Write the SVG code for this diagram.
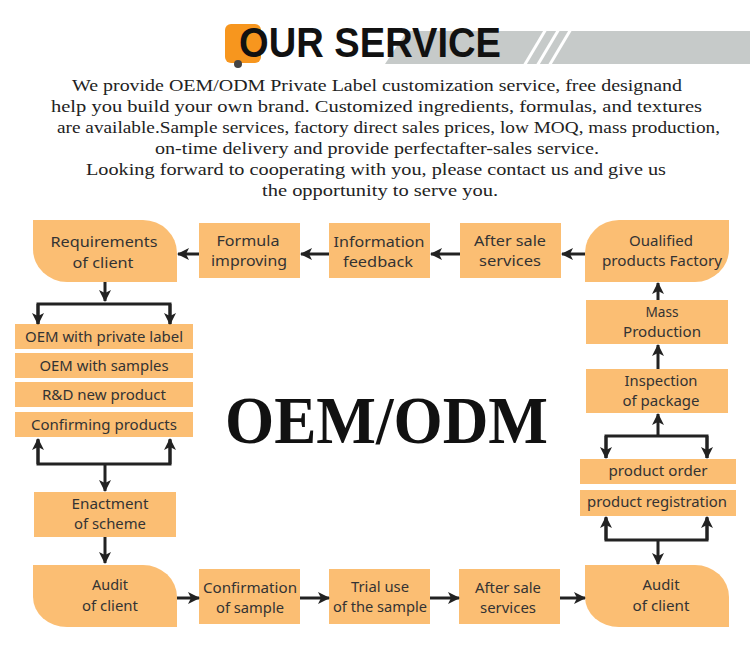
<svg xmlns="http://www.w3.org/2000/svg" width="750" height="646" viewBox="0 0 750 646">
<defs>
<style>
.n{fill:#FBBE73}
.t{font-family:"Noto Sans","Open Sans",sans-serif;font-size:15px;fill:#333;text-anchor:middle}
.p{font-family:"Liberation Serif","Times New Roman",serif;font-size:17.5px;fill:#222}
.c line,.c path{stroke:#222;stroke-width:3;fill:none}
</style>
<marker id="ah" viewBox="0 0 12 12" refX="11" refY="6" markerWidth="12" markerHeight="12" markerUnits="userSpaceOnUse" orient="auto">
<path d="M0,0 L12,6 L0,12 L3,6 Z" fill="#222"/>
</marker>
</defs>
<rect width="750" height="646" fill="#fff"/>

<g id="title">
<polygon points="385,64 407,31 750,31 750,64" fill="#C6CAC9"/>
<g stroke="#fff" stroke-width="3">
<line x1="524" y1="66" x2="546" y2="29"/>
<line x1="537" y1="66" x2="559" y2="29"/>
<line x1="549" y1="66" x2="571" y2="29"/>
</g>
<rect x="225" y="24" width="36" height="39" rx="6" fill="#F7961E"/>
<circle cx="238" cy="64" r="4" fill="#444"/>
<text x="239" y="57" font-family="Liberation Sans,Arial,sans-serif" font-weight="bold" font-size="42" fill="#111" textLength="262" lengthAdjust="spacingAndGlyphs">OUR SERVICE</text>
</g>

<g id="intro" class="p">
<text class="p" x="72" y="91" textLength="610" lengthAdjust="spacingAndGlyphs">We provide OEM/ODM Private Label customization service, free designand</text>
<text class="p" x="51" y="112" textLength="651" lengthAdjust="spacingAndGlyphs">help you build your own brand. Customized ingredients, formulas, and textures</text>
<text class="p" x="57" y="133" textLength="663" lengthAdjust="spacingAndGlyphs">are available.Sample services, factory direct sales prices, low MOQ, mass production,</text>
<text class="p" x="155" y="154" textLength="444" lengthAdjust="spacingAndGlyphs">on-time delivery and provide perfectafter-sales service.</text>
<text class="p" x="86" y="175" textLength="580" lengthAdjust="spacingAndGlyphs">Looking forward to cooperating with you, please contact us and give us</text>
<text class="p" x="262" y="196" textLength="236" lengthAdjust="spacingAndGlyphs">the opportunity to serve you.</text>
</g>

<text id="center-title" x="225" y="443" font-family="Liberation Serif,Times New Roman,serif" font-weight="bold" font-size="68" fill="#111" textLength="323" lengthAdjust="spacingAndGlyphs">OEM/ODM</text>

<g id="requirements">
<path class="n" d="M33,220 H143 A34,33 0 0 1 177,253 V282 H67 A34,33 0 0 1 33,249 Z"/>
<text class="t" x="104" y="247" textLength="107" lengthAdjust="spacingAndGlyphs">Requirements</text>
<text class="t" x="103" y="268" textLength="61" lengthAdjust="spacingAndGlyphs">of client</text>
</g>
<g id="formula">
<rect class="n" x="199" y="223" width="101" height="55"/>
<text class="t" x="248" y="246" textLength="63" lengthAdjust="spacingAndGlyphs">Formula</text>
<text class="t" x="249" y="266" textLength="76" lengthAdjust="spacingAndGlyphs">improving</text>
</g>
<g id="information">
<rect class="n" x="329" y="223" width="101" height="55"/>
<text class="t" x="379" y="247" textLength="91" lengthAdjust="spacingAndGlyphs">Information</text>
<text class="t" x="378" y="267" textLength="70" lengthAdjust="spacingAndGlyphs">feedback</text>
</g>
<g id="aftersale-top">
<rect class="n" x="460" y="223" width="101" height="55"/>
<text class="t" x="510" y="246" textLength="72" lengthAdjust="spacingAndGlyphs">After sale</text>
<text class="t" x="510" y="266" textLength="62" lengthAdjust="spacingAndGlyphs">services</text>
</g>
<g id="qualified">
<path class="n" d="M619,220 H729 V249 A34,33 0 0 1 695,282 H585 V253 A34,33 0 0 1 619,220 Z"/>
<text class="t" x="661" y="246" textLength="64" lengthAdjust="spacingAndGlyphs">Oualified</text>
<text class="t" x="662" y="266" textLength="120" lengthAdjust="spacingAndGlyphs">products Factory</text>
</g>

<g id="oem-private">
<rect class="n" x="15" y="324" width="178" height="25"/>
<text class="t" x="104" y="342" textLength="158" lengthAdjust="spacingAndGlyphs">OEM with private label</text>
</g>
<g id="oem-samples">
<rect class="n" x="15" y="353" width="178" height="25"/>
<text class="t" x="104" y="371" textLength="129" lengthAdjust="spacingAndGlyphs">OEM with samples</text>
</g>
<g id="rd">
<rect class="n" x="15" y="382" width="178" height="25"/>
<text class="t" x="104" y="400" textLength="124" lengthAdjust="spacingAndGlyphs">R&amp;D new product</text>
</g>
<g id="confirming">
<rect class="n" x="15" y="412" width="178" height="25"/>
<text class="t" x="104" y="430" textLength="146" lengthAdjust="spacingAndGlyphs">Confirming products</text>
</g>
<g id="enactment">
<rect class="n" x="34" y="492" width="142" height="45"/>
<text class="t" x="110" y="509" textLength="77" lengthAdjust="spacingAndGlyphs">Enactment</text>
<text class="t" x="110" y="529" textLength="72" lengthAdjust="spacingAndGlyphs">of scheme</text>
</g>

<g id="mass">
<rect class="n" x="586" y="300" width="142" height="44"/>
<text class="t" x="662" y="317" textLength="33" lengthAdjust="spacingAndGlyphs">Mass</text>
<text class="t" x="662" y="337" textLength="78" lengthAdjust="spacingAndGlyphs">Production</text>
</g>
<g id="inspection">
<rect class="n" x="586" y="369" width="142" height="44"/>
<text class="t" x="661" y="386" textLength="73" lengthAdjust="spacingAndGlyphs">Inspection</text>
<text class="t" x="661" y="406" textLength="77" lengthAdjust="spacingAndGlyphs">of package</text>
</g>
<g id="order">
<rect class="n" x="580" y="459" width="156" height="25"/>
<text class="t" x="658" y="476" textLength="99" lengthAdjust="spacingAndGlyphs">product order</text>
</g>
<g id="registration">
<rect class="n" x="580" y="490" width="156" height="26"/>
<text class="t" x="657" y="507" textLength="140" lengthAdjust="spacingAndGlyphs">product registration</text>
</g>

<g id="audit-left">
<path class="n" d="M33,565 H143 A34,32 0 0 1 177,597 V627 H67 A34,30 0 0 1 33,597 Z"/>
<text class="t" x="110" y="590" textLength="36" lengthAdjust="spacingAndGlyphs">Audit</text>
<text class="t" x="110" y="611" textLength="56" lengthAdjust="spacingAndGlyphs">of client</text>
</g>
<g id="confirmation">
<rect class="n" x="199" y="569" width="101" height="55"/>
<text class="t" x="250" y="593" textLength="94" lengthAdjust="spacingAndGlyphs">Confirmation</text>
<text class="t" x="250" y="613" textLength="68" lengthAdjust="spacingAndGlyphs">of sample</text>
</g>
<g id="trial">
<rect class="n" x="329" y="569" width="101" height="55"/>
<text class="t" x="380" y="592" textLength="58" lengthAdjust="spacingAndGlyphs">Trial use</text>
<text class="t" x="380" y="612" textLength="94" lengthAdjust="spacingAndGlyphs">of the sample</text>
</g>
<g id="aftersale-bottom">
<rect class="n" x="459" y="569" width="101" height="55"/>
<text class="t" x="508" y="593" textLength="66" lengthAdjust="spacingAndGlyphs">After sale</text>
<text class="t" x="508" y="613" textLength="56" lengthAdjust="spacingAndGlyphs">services</text>
</g>
<g id="audit-right">
<path class="n" d="M585,565 H695 A34,32 0 0 1 729,597 V627 H619 A34,30 0 0 1 585,597 Z"/>
<text class="t" x="661" y="590" textLength="37" lengthAdjust="spacingAndGlyphs">Audit</text>
<text class="t" x="661" y="611" textLength="57" lengthAdjust="spacingAndGlyphs">of client</text>
</g>

<g id="connectors" class="c">
<line x1="199" y1="254" x2="178" y2="254" marker-end="url(#ah)"/>
<line x1="329" y1="254" x2="301" y2="254" marker-end="url(#ah)"/>
<line x1="460" y1="254" x2="431" y2="254" marker-end="url(#ah)"/>
<line x1="585" y1="254" x2="562" y2="254" marker-end="url(#ah)"/>
<line x1="105" y1="282" x2="105" y2="301" marker-end="url(#ah)"/>
<path d="M38,324 V304 H170 V324"/>
<line x1="38" y1="304" x2="38" y2="324" marker-end="url(#ah)"/>
<line x1="170" y1="304" x2="170" y2="324" marker-end="url(#ah)"/>
<path d="M38,440 V464 H170 V440"/>
<line x1="38" y1="464" x2="38" y2="439" marker-end="url(#ah)"/>
<line x1="170" y1="464" x2="170" y2="439" marker-end="url(#ah)"/>
<line x1="105" y1="464" x2="105" y2="491" marker-end="url(#ah)"/>
<line x1="105" y1="537" x2="105" y2="563" marker-end="url(#ah)"/>
<line x1="177" y1="598" x2="199" y2="598" marker-end="url(#ah)"/>
<line x1="300" y1="598" x2="329" y2="598" marker-end="url(#ah)"/>
<line x1="430" y1="598" x2="459" y2="598" marker-end="url(#ah)"/>
<line x1="560" y1="598" x2="585" y2="598" marker-end="url(#ah)"/>
<line x1="658" y1="300" x2="658" y2="283" marker-end="url(#ah)"/>
<line x1="658" y1="369" x2="658" y2="345" marker-end="url(#ah)"/>
<line x1="658" y1="436" x2="658" y2="414" marker-end="url(#ah)"/>
<path d="M606,458 V436 H707 V458"/>
<line x1="606" y1="436" x2="606" y2="458" marker-end="url(#ah)"/>
<line x1="707" y1="436" x2="707" y2="458" marker-end="url(#ah)"/>
<path d="M606,518 V540 H707 V518"/>
<line x1="606" y1="540" x2="606" y2="517" marker-end="url(#ah)"/>
<line x1="707" y1="540" x2="707" y2="517" marker-end="url(#ah)"/>
<line x1="658" y1="540" x2="658" y2="564" marker-end="url(#ah)"/>
</g>
</svg>
